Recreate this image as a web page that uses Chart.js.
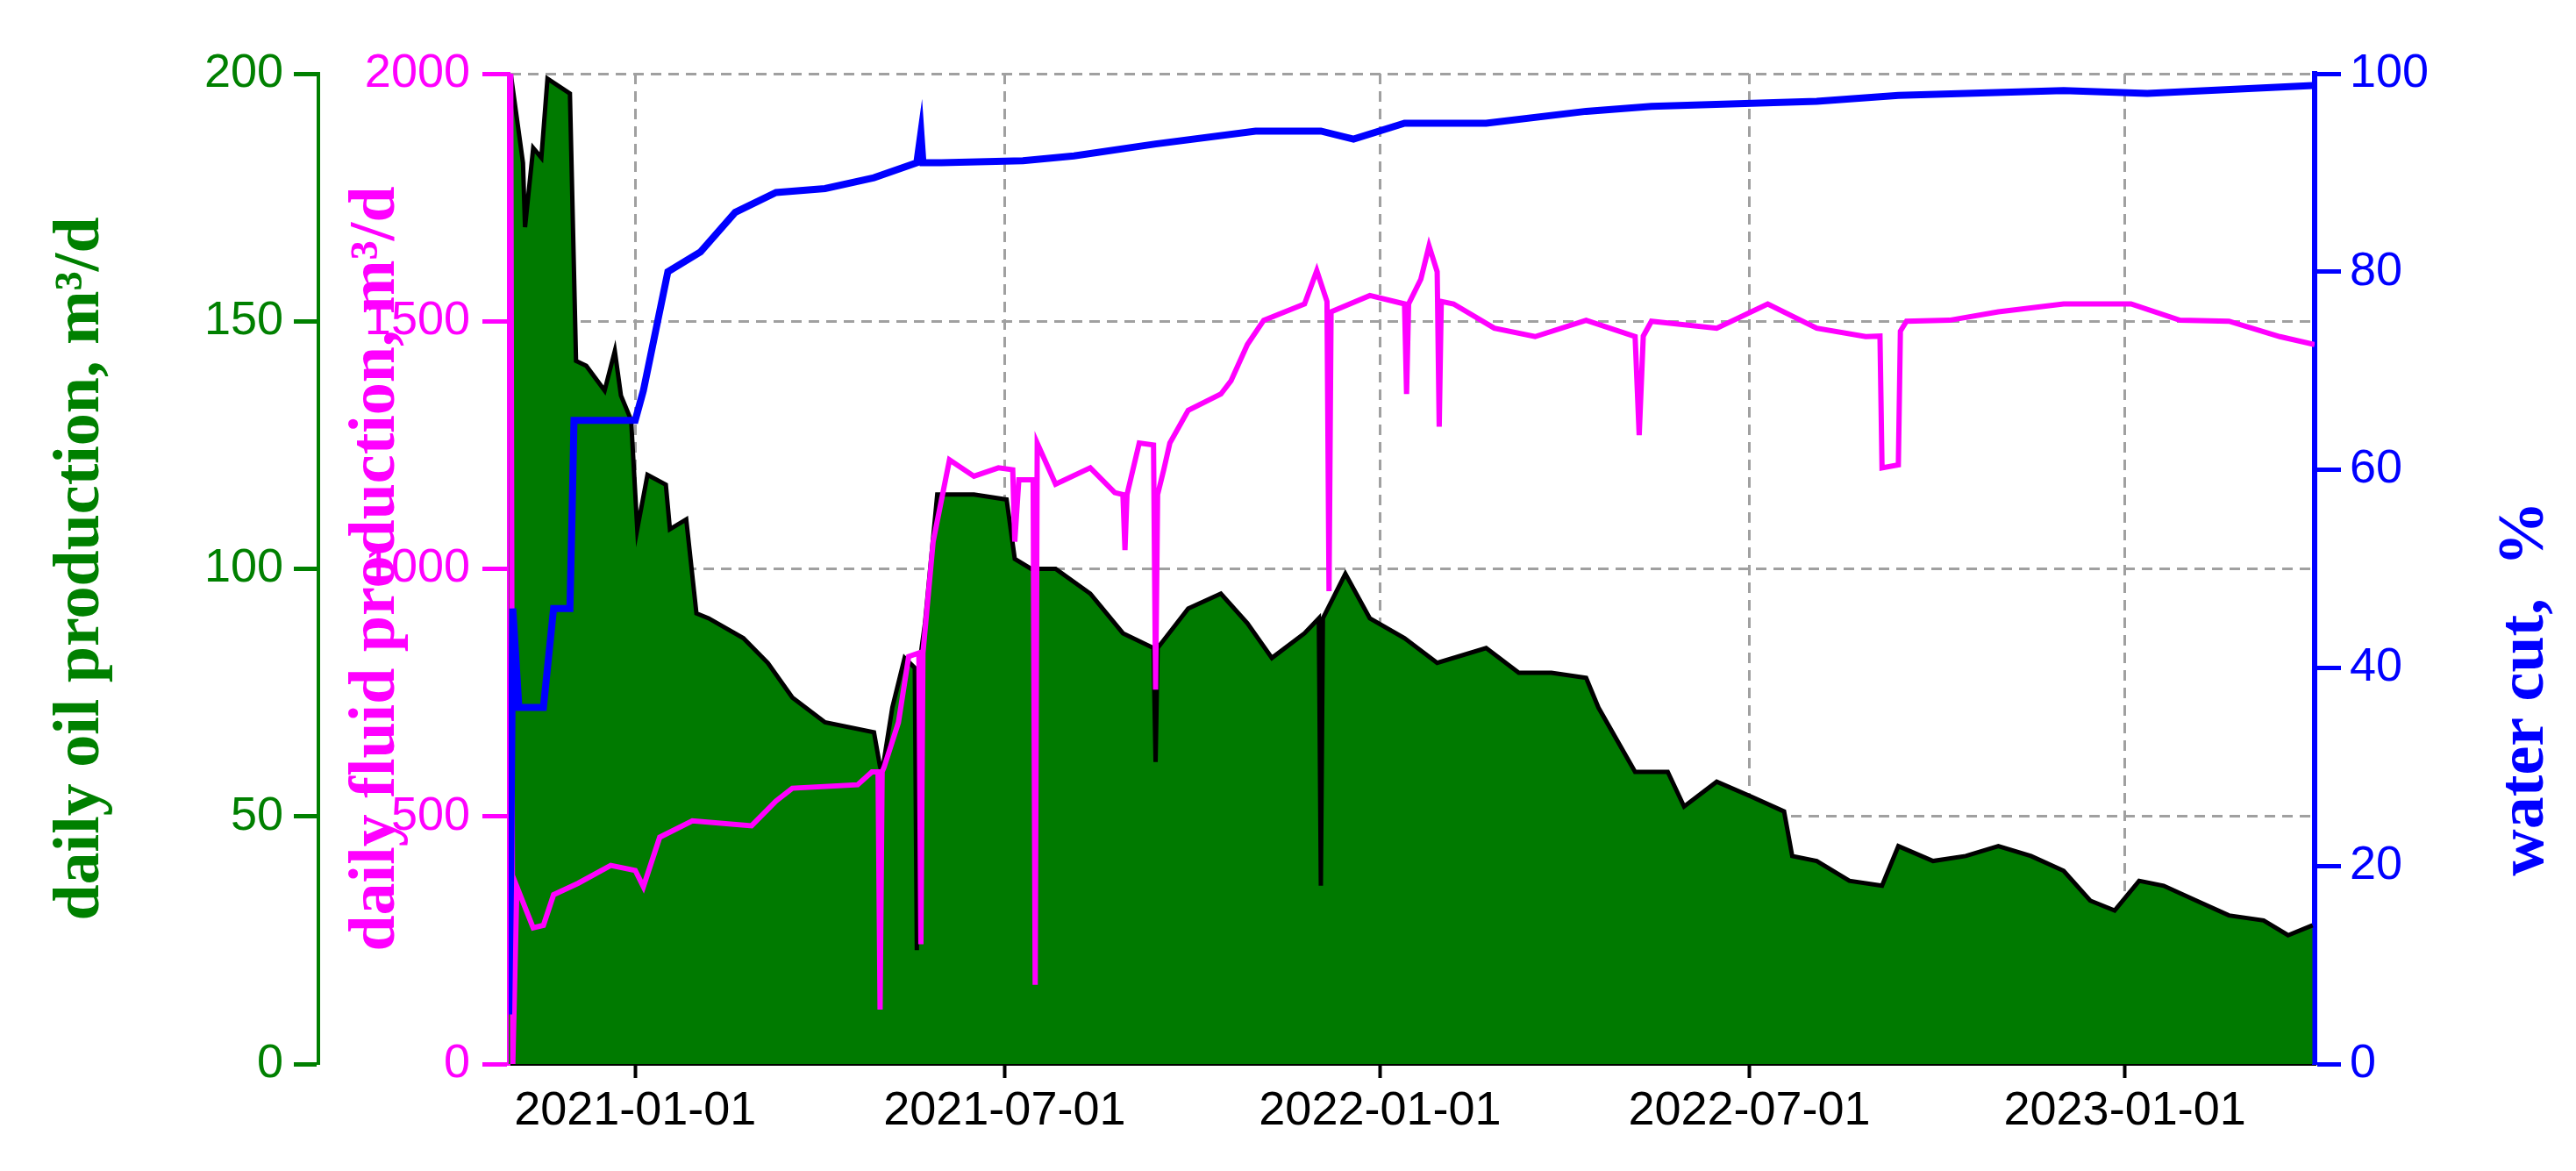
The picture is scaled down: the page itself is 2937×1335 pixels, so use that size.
<!DOCTYPE html>
<html>
<head>
<meta charset="utf-8">
<script src="https://cdn.jsdelivr.net/npm/chart.js@4.4.1/dist/chart.umd.min.js"></script>
<style>
  html, body { margin: 0; padding: 0; background: #fff; }
</style>
</head>
<body>
<canvas id="canvas" width="2937" height="1335"></canvas>
<script>
"use strict";
// days counted from 2021-01-01
const tickDays = [0, 181, 365, 546, 730];
const tickLabels = ["2021-01-01", "2021-07-01", "2022-01-01", "2022-07-01", "2023-01-01"];

const oilDays = [-62, -61, -55, -54, -50, -46, -43, -32, -29, -24, -15, -10, -7, -2, 1, 6, 15, 17, 25, 30,
  36, 53, 65, 77, 93, 117, 120, 121, 126, 132, 137, 138, 139, 142, 148, 166, 182, 186, 194, 206, 223, 239,
  254, 255, 256, 271, 287, 300, 312, 328, 335, 336, 337, 348, 360, 377, 393, 417, 433, 449, 466, 472, 490,
  506, 514, 530, 547, 563, 567, 579, 595, 611, 619, 636, 652, 668, 684, 700, 713, 725, 737, 749, 765, 781,
  798, 810, 822];
const oilValues = [200, 200, 182, 169, 185, 183, 199, 196, 142, 141, 136, 144, 135, 130, 108, 119, 117, 108, 110, 91,
  90, 86, 81, 74, 69, 67, 60, 59, 72, 82, 80, 23, 80, 89, 115, 115, 114, 102, 100, 100, 95, 87,
  84, 61, 84, 92, 95, 89, 82, 87, 90, 36, 90, 99, 90, 86, 81, 84, 79, 79, 78, 72, 59,
  59, 52, 57, 54, 51, 42, 41, 37, 36, 44, 41, 42, 44, 42, 39, 33, 31, 37, 36, 33, 30,
  29, 26, 28];

const fluidDays = [-62, -61, -60, -58, -50, -45, -40, -28, -12, 0, 4, 12, 28, 57, 69, 77, 109, 116, 119, 120,
  121, 122, 129, 134, 139, 140, 141, 146, 154, 166, 178, 185, 186, 188, 195, 196, 197, 206, 223, 235, 239,
  240, 241, 247, 254, 255, 256, 259, 262, 271, 287, 292, 300, 308, 328, 334, 339, 340, 341, 360, 377, 378,
  379, 385, 389, 393, 394, 395, 401, 421, 441, 466, 490, 492, 494, 498, 530, 555, 579, 603, 610, 611, 619,
  620, 623, 644, 668, 700, 733, 757, 781, 806, 823];
const fluidValues = [2000, 2000, 0, 358, 275, 280, 342, 365, 401, 391, 358, 458, 491, 481, 531, 557, 564, 590, 590, 110,
  590, 600, 690, 823, 830, 242, 830, 1055, 1220, 1187, 1204, 1200, 1055, 1180, 1180, 160, 1254, 1171, 1204, 1154, 1150,
  1038, 1150, 1254, 1250, 756, 1150, 1200, 1254, 1320, 1353, 1380, 1453, 1502, 1535, 1602, 1540, 955, 1519, 1552, 1535, 1353,
  1535, 1585, 1652, 1600, 1287, 1540, 1535, 1486, 1469, 1502, 1469, 1270, 1470, 1500, 1486, 1535, 1486, 1469, 1470, 1204, 1210,
  1480, 1500, 1502, 1519, 1535, 1535, 1502, 1500, 1469, 1453];

const waterDays = [-62, -61, -60, -57, -45, -40, -32, -31, -30, 0, 4, 10, 16, 32, 49, 69, 93, 117, 138, 140,
  141, 150, 190, 215, 255, 304, 336, 352, 377, 417, 466, 498, 579, 619, 700, 741, 822];
const waterValues = [5, 20, 46, 36, 36, 46, 46, 55, 65, 65, 68, 74, 80, 82, 86, 88, 88.4, 89.5, 91, 94,
  91, 91, 91.2, 91.7, 92.9, 94.2, 94.2, 93.4, 95, 95, 96.2, 96.7, 97.2, 97.8, 98.3, 98, 98.8];

const pts = (xs, ys) => xs.map((x, i) => ({ x: x, y: ys[i] }));
const tickFont = { family: "Liberation Sans", size: 54 };
const titleFont = { family: "Liberation Serif", size: 74, weight: "bold" };

// right-hand title reads bottom to top, like the left ones
const waterTitle = {
  id: "waterTitle",
  afterDraw: function(chart) {
    const ctx = chart.ctx;
    ctx.save();
    ctx.translate(2880, 785);
    ctx.rotate(-Math.PI / 2);
    ctx.fillStyle = "#0000ff";
    ctx.font = "bold 74px 'Liberation Serif'";
    ctx.textAlign = "center";
    ctx.textBaseline = "middle";
    ctx.fillText("water cut,  %", 0, 0);
    ctx.restore();
  }
};

new Chart(document.getElementById("canvas"), {
  type: "line",
  data: {
    datasets: [
      { data: pts(waterDays, waterValues), yAxisID: "yWater", borderColor: "#0000ff", borderWidth: 8,
        pointRadius: 0, fill: false },
      { data: pts(fluidDays, fluidValues), yAxisID: "yFluid", borderColor: "#ff00ff", borderWidth: 6,
        pointRadius: 0, fill: false },
      { data: pts(oilDays, oilValues), yAxisID: "yOil", borderColor: "#000000", borderWidth: 5,
        backgroundColor: "#007a00", pointRadius: 0, fill: "origin" }
    ]
  },
  options: {
    responsive: false,
    devicePixelRatio: 1,
    animation: false,
    layout: { padding: { top: 84, right: 0, bottom: 0, left: 0 } },
    plugins: { legend: { display: false }, tooltip: { enabled: false } },
    scales: {
      x: {
        type: "linear", min: -62, max: 823,
        afterBuildTicks: function(scale) { scale.ticks = tickDays.map(v => ({ value: v })); },
        afterFit: function(scale) { scale.height = 122; },
        ticks: {
          color: "#000", font: tickFont, padding: 6, maxRotation: 0,
          callback: function(v) { const i = tickDays.indexOf(v); return i >= 0 ? tickLabels[i] : ""; }
        },
        grid: { color: "#a0a0a0", lineWidth: 3, tickColor: "#000", tickLength: 16, tickWidth: 4 },
        border: { color: "#000", width: 3, dash: [12, 8] }
      },
      yFluid: {
        position: "left", weight: 0, min: 0, max: 2000,
        afterBuildTicks: function(scale) { scale.ticks = [0, 500, 1000, 1500, 2000].map(v => ({ value: v })); },
        afterFit: function(scale) { scale.width = 217; },
        ticks: { color: "#ff00ff", font: tickFont, padding: 14, callback: v => String(v) },
        grid: { color: "#a0a0a0", lineWidth: 3, tickColor: "#ff00ff", tickLength: 30, tickWidth: 5 },
        border: { color: "#ff00ff", width: 4, dash: [12, 8] },
        title: { display: true, text: "daily fluid production, m³/d", color: "#ff00ff", padding: 22,
          font: titleFont }
      },
      yOil: {
        position: "left", weight: 1, min: 0, max: 200,
        afterBuildTicks: function(scale) { scale.ticks = [0, 50, 100, 150, 200].map(v => ({ value: v })); },
        afterFit: function(scale) { scale.width = 363; },
        ticks: { color: "#008000", font: tickFont, padding: 12, callback: v => String(v) },
        grid: { drawOnChartArea: false, tickColor: "#008000", tickLength: 28, tickWidth: 5 },
        border: { color: "#008000", width: 4 },
        title: { display: true, text: "daily oil production, m³/d", color: "#008000", padding: 48,
          font: titleFont }
      },
      yWater: {
        position: "right", min: 0, max: 100,
        afterBuildTicks: function(scale) { scale.ticks = [0, 20, 40, 60, 80, 100].map(v => ({ value: v })); },
        afterFit: function(scale) { scale.width = 298; },
        ticks: { color: "#0000ff", font: tickFont, padding: 10, callback: v => String(v) },
        grid: { drawOnChartArea: false, tickColor: "#0000ff", tickLength: 30, tickWidth: 5 },
        border: { color: "#0000ff", width: 6 }
      }
    }
  },
  plugins: [waterTitle]
});
</script>
</body>
</html>
